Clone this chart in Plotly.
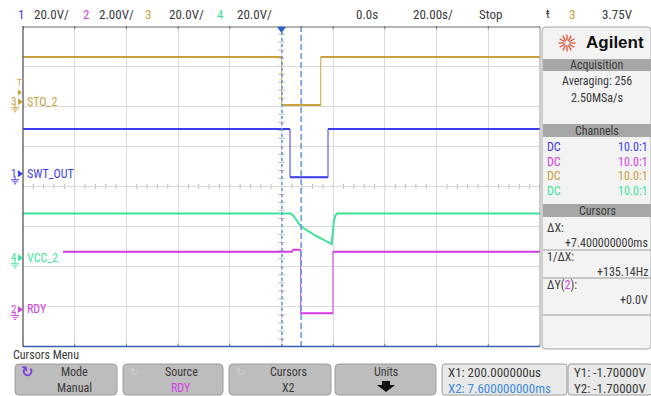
import math
import plotly.graph_objects as go

# ---- waveform data (time in ms, amplitude in volts) ----
t_sto = [-100, 0.06, 0.06, 15.2, 15.2, 100]
v_sto = [24.0, 24.0, 0.0, 0.0, 24.0, 24.0]

t_swt = [-100, 3.3, 3.3, 18.0, 18.0, 100]
v_swt = [24.0, 24.0, 0.0, 0.0, 24.0, 24.0]

t_vcc = [-100, 3.55, 4.58, 5.87, 7.16, 8.45, 11.03, 13.6, 16.18, 18.76, 19.4, 19.8, 20.3, 20.8, 21.6, 100]
v_vcc = [24.0, 24.0, 22.9, 20.4, 18.2, 16.7, 14.6, 12.6, 10.9, 9.4, 8.7, 13.8, 20.4, 22.9, 24.0, 24.0]

t_rdy = [-84.5, 3.9, 4.6, 7.4, 7.4, 19.9, 19.9, 100]
v_rdy = [3.07, 3.07, 3.17, 3.17, 0.0, 0.0, 3.07, 3.07]

# cursor positions (ms)
cursor_x1 = 0.2
cursor_x2 = 7.6

# channel setup: name, volts/div, ground position (div), colour
channels = {
    1: dict(name="SWT_OUT", vdiv=20.0, gnd=0.23, color="#3d3ded"),
    2: dict(name="RDY", vdiv=2.0, gnd=-3.16, color="#d33fe3"),
    3: dict(name="STO_2", vdiv=20.0, gnd=2.03, color="#c9a03c"),
    4: dict(name="VCC_2", vdiv=20.0, gnd=-1.87, color="#3fe39a"),
}
series = {1: (t_swt, v_swt), 2: (t_rdy, v_rdy), 3: (t_sto, v_sto), 4: (t_vcc, v_vcc)}

W, H = 651, 396
FONT = "Liberation Sans Narrow, Roboto Condensed, Arial Narrow, Roboto, sans-serif"
TXT = "#3a3a3a"


def fx(x):
    return x / W


def fy(y):
    return 1 - y / H


fig = go.Figure()

for ch in (3, 1, 4, 2):
    c = channels[ch]
    t, v = series[ch]
    y = [c["gnd"] + vv / c["vdiv"] for vv in v]
    # thin pass draws everything, including the fast edges
    fig.add_trace(go.Scatter(x=t, y=y, mode="lines", line=dict(color=c["color"], width=1),
                             hoverinfo="skip", showlegend=False))
    # thicker pass for the settled levels, broken at instantaneous steps
    tx, ty = [t[0]], [y[0]]
    for i in range(1, len(t)):
        if t[i] == t[i - 1]:
            tx.append(None)
            ty.append(None)
        tx.append(t[i])
        ty.append(y[i])
    fig.add_trace(go.Scatter(x=tx, y=ty, mode="lines", line=dict(color=c["color"], width=2),
                             connectgaps=False, hoverinfo="skip", showlegend=False))

shapes = []
annotations = []


def ann(x, y, text, color=TXT, size=12, anchor="left", bold=False, family=FONT):
    if bold:
        text = "<b>" + text + "</b>"
    annotations.append(dict(x=fx(x), y=fy(y), xref="paper", yref="paper", text=text,
                            showarrow=False, xanchor=anchor, yanchor="middle",
                            font=dict(family=family, size=size, color=color)))


def rrect(x0, y0, x1, y1, r, fill, line="#9a9a9a", lw=1):
    X0, X1 = fx(x0), fx(x1)
    Y0, Y1 = fy(y0), fy(y1)
    rx, ry = r / W, r / H
    path = (f"M {X0+rx},{Y0} L {X1-rx},{Y0} Q {X1},{Y0} {X1},{Y0-ry} "
            f"L {X1},{Y1+ry} Q {X1},{Y1} {X1-rx},{Y1} L {X0+rx},{Y1} "
            f"Q {X0},{Y1} {X0},{Y1+ry} L {X0},{Y0-ry} Q {X0},{Y0} {X0+rx},{Y0} Z")
    shapes.append(dict(type="path", path=path, xref="paper", yref="paper",
                       fillcolor=fill, line=dict(color=line, width=lw), layer="below"))


def pline(x0, y0, x1, y1, color, w=1, dash="solid"):
    shapes.append(dict(type="line", xref="paper", yref="paper", x0=fx(x0), y0=fy(y0),
                       x1=fx(x1), y1=fy(y1), line=dict(color=color, width=w, dash=dash)))


# minor ticks on the centre lines
for i in range(-25, 26):
    tx = i * 4
    shapes.append(dict(type="line", xref="x", yref="y", x0=tx, x1=tx, y0=-0.06, y1=0.06,
                       line=dict(color="#b8b8b8", width=1), layer="below"))
for i in range(-20, 21):
    ty = i * 0.2
    shapes.append(dict(type="line", xref="x", yref="y", x0=-1.2, x1=1.2, y0=ty, y1=ty,
                       line=dict(color="#b8b8b8", width=1), layer="below"))
# major ticks along top/bottom frame
for i in range(-5, 6):
    tx = i * 20
    shapes.append(dict(type="line", xref="x", yref="y", x0=tx, x1=tx, y0=3.92, y1=4.0,
                       line=dict(color="#777777", width=1)))
    shapes.append(dict(type="line", xref="x", yref="y", x0=tx, x1=tx, y0=-4.0, y1=-3.92,
                       line=dict(color="#777777", width=1)))

# cursors
shapes.append(dict(type="line", xref="x", yref="y", x0=cursor_x1, x1=cursor_x1, y0=-4, y1=4,
                   line=dict(color="#6b9bdc", width=1.6, dash="dot")))
shapes.append(dict(type="line", xref="x", yref="y", x0=cursor_x2, x1=cursor_x2, y0=-4, y1=4,
                   line=dict(color="#6b9bdc", width=1.6, dash="6px,3px")))

# frame of graticule
pline(23, 27, 540, 27, "#6a6a6a", 1)
pline(23, 26, 23, 347, "#4a4a4a", 1.2)
pline(540, 26, 540, 347, "#9a9a9a", 1)
pline(23, 346.5, 540, 346.5, "#3a5fae", 1.5)

# trigger-time marker
shapes.append(dict(type="path", xref="paper", yref="paper",
                   path=f"M {fx(277)},{fy(27)} L {fx(286)},{fy(27)} L {fx(281.5)},{fy(33)} Z",
                   fillcolor="#2f62c8", line=dict(width=0)))


# channel ground markers and labels
def to_py(div):
    return 186 - 40 * div


for ch, c in channels.items():
    gy = to_py(c["gnd"]) - 3
    ann(9, gy, str(ch), c["color"], 11)
    shapes.append(dict(type="path", xref="paper", yref="paper",
                       path=f"M {fx(18)},{fy(gy-3.5)} L {fx(23)},{fy(gy)} L {fx(18)},{fy(gy+3.5)} Z",
                       fillcolor=c["color"], line=dict(width=0)))
    pline(15, gy + 2, 15, gy + 6, c["color"], 1)
    pline(11, gy + 6, 19, gy + 6, c["color"], 1)
    pline(12.5, gy + 8, 17.5, gy + 8, c["color"], 1)
    pline(14, gy + 10, 16, gy + 10, c["color"], 1)
    ann(25, gy, c["name"], c["color"], 12)

# trigger level marker
ann(19, 83, "T", channels[3]["color"], 9, anchor="center")
shapes.append(dict(type="path", xref="paper", yref="paper",
                   path=f"M {fx(18)},{fy(89.5)} L {fx(22)},{fy(92.5)} L {fx(18)},{fy(95.5)} Z",
                   fillcolor=channels[3]["color"], line=dict(width=0)))

# ---- header line ----
hy = 14
ann(21, hy, "1", channels[1]["color"], 13, anchor="center")
ann(32, hy, "20.0V/", TXT, 13)
ann(86, hy, "2", channels[2]["color"], 13, anchor="center")
ann(97, hy, "2.00V/", TXT, 13)
ann(148, hy, "3", channels[3]["color"], 13, anchor="center")
ann(167, hy, "20.0V/", TXT, 13)
ann(220, hy, "4", channels[4]["color"], 13, anchor="center")
ann(235, hy, "20.0V/", TXT, 13)
ann(367, hy, "0.0s", TXT, 13, anchor="center")
ann(433, hy, "20.00s/", TXT, 13, anchor="center")
ann(490, hy, "Stop", TXT, 13, anchor="center")
ann(548, hy, "ŧ", TXT, 12, anchor="center")
ann(572, hy, "3", channels[3]["color"], 13, anchor="center")
ann(635, hy, "3.75V", TXT, 13, anchor="right")

# ---- right-hand info panel ----
rrect(542, 27, 651, 349, 4, "#f3f3f3", "#a8a8a8", 1)
# logo
cx, cy = 567, 43
for k in range(12):
    a = k * math.pi / 6
    r0, r1 = 2.5, 8.5
    pline(cx + r0 * math.cos(a), cy + r0 * math.sin(a), cx + r1 * math.cos(a), cy + r1 * math.sin(a),
          "#e0503a", 1.3)
ann(615, 42, "Agilent", "#111111", 17, anchor="center", bold=True, family="Liberation Sans, Arial, sans-serif")


def bar(y0, y1, title):
    shapes.append(dict(type="rect", xref="paper", yref="paper", x0=fx(543), x1=fx(651),
                       y0=fy(y1), y1=fy(y0), fillcolor="#a7a7a7", line=dict(width=0)))
    ann(597, (y0 + y1) / 2, title, "#3c3c3c", 12, anchor="center")


bar(59, 71, "Acquisition")
ann(597, 81, "Averaging: 256", TXT, 12, anchor="center")
ann(597, 98, "2.50MSa/s", TXT, 12, anchor="center")
bar(124, 137, "Channels")
for i, ch in enumerate((1, 2, 3, 4)):
    ry = 147 + i * 14.7
    ann(545, ry, "DC", channels[ch]["color"], 12)
    ann(650, ry, "10.0:1", channels[ch]["color"], 12, anchor="right")
bar(204, 217, "Cursors")
ann(545, 228, "ΔX:", TXT, 12)
ann(650, 243, "+7.400000000ms", TXT, 12, anchor="right")
pline(543, 250, 651, 250, "#9a9a9a", 1)
ann(545, 257, "1/ΔX:", TXT, 12)
ann(650, 272, "+135.14Hz", TXT, 12, anchor="right")
pline(543, 278, 651, 278, "#9a9a9a", 1)
ann(545, 285, "ΔY(<span style='color:%s'>2</span>):" % channels[2]["color"], TXT, 12)
ann(650, 300, "+0.0V", TXT, 12, anchor="right")
pline(543, 315, 651, 315, "#9a9a9a", 1)

# ---- softkey menu ----
ann(11, 355, "Cursors Menu", TXT, 12)
buttons = [(15, 117, "Mode", "Manual", TXT), (123, 223, "Source", "RDY", channels[2]["color"]),
           (229, 331, "Cursors", "X2", TXT), (335, 436, "Units", "", TXT)]
for x0, x1, top, bottom, bcol in buttons:
    rrect(x0, 364, x1, 395, 4, "#bdbdbd", "#9c9c9c", 1)
    cxb = (x0 + x1) / 2 + (8 if x0 < 330 else 0)
    ann(cxb, 372, top, TXT, 12, anchor="center")
    if bottom:
        ann(cxb, 388, bottom, bcol, 12, anchor="center")
# mode icon and faint icons
ann(27, 372, "↻", "#7b3fe0", 15, anchor="center", bold=True, family="DejaVu Sans")
ann(134, 372, "↻", "#cfcfcf", 11, anchor="center", family="DejaVu Sans")
ann(240, 372, "↻", "#cfcfcf", 11, anchor="center", family="DejaVu Sans")
# units arrow
shapes.append(dict(type="path", xref="paper", yref="paper",
                   path=(f"M {fx(382)},{fy(381)} L {fx(390)},{fy(381)} L {fx(390)},{fy(385)} "
                         f"L {fx(395)},{fy(385)} L {fx(386)},{fy(392)} L {fx(377)},{fy(385)} "
                         f"L {fx(382)},{fy(385)} Z"),
                   fillcolor="#111111", line=dict(width=0)))
# readout boxes
rrect(442, 364, 567, 395, 3, "#e9e9e9", "#9c9c9c", 1)
rrect(568, 364, 652, 395, 3, "#e9e9e9", "#9c9c9c", 1)
ann(446, 372, "X1: 200.000000us", TXT, 13)
ann(446, 388, "X2: 7.600000000ms", "#3f8be0", 13)
ann(572, 372, "Y1: -1.70000V", TXT, 13)
ann(572, 388, "Y2: -1.70000V", TXT, 13)

fig.update_layout(
    width=W, height=H, margin=dict(l=0, r=0, t=0, b=0),
    paper_bgcolor="#ffffff", plot_bgcolor="#ffffff",
    xaxis=dict(domain=[fx(23), fx(540)], range=[-100, 100], dtick=20, tick0=0,
               showgrid=True, gridcolor="#dadada", gridwidth=1, zeroline=False,
               showticklabels=False, ticks="", fixedrange=True),
    yaxis=dict(domain=[fy(347), fy(26)], range=[-4, 4], dtick=1, tick0=0,
               showgrid=True, gridcolor="#dadada", gridwidth=1, zeroline=False,
               showticklabels=False, ticks="", fixedrange=True),
    shapes=shapes, annotations=annotations, showlegend=False,
)

fig.write_html("out.html", config=dict(displayModeBar=False))
